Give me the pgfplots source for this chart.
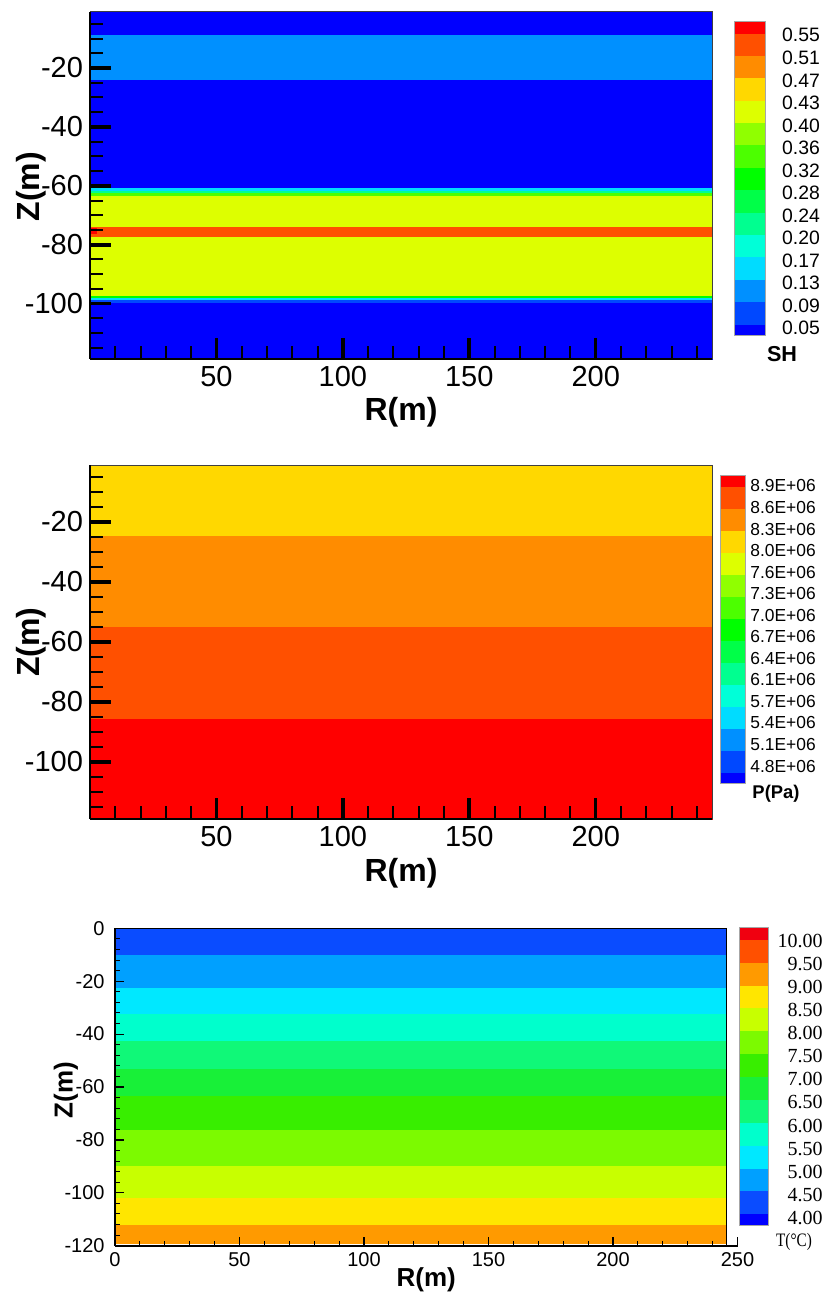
\documentclass[border=0pt]{standalone}
\usepackage{fontspec}
\setmainfont{Liberation Sans}
\newfontfamily\tnr{Liberation Serif}
\usepackage{pgfplots}
\pgfplotsset{compat=1.18}

% Tecplot-like palette (panels 1 and 2)
\definecolor{c00}{HTML}{0000FF}
\definecolor{c01}{HTML}{0048FF}
\definecolor{c02}{HTML}{0090FF}
\definecolor{c03}{HTML}{00DCFF}
\definecolor{c04}{HTML}{00FFD8}
\definecolor{c05}{HTML}{00FF90}
\definecolor{c06}{HTML}{00FF48}
\definecolor{c07}{HTML}{00FF00}
\definecolor{c08}{HTML}{4CFF00}
\definecolor{c09}{HTML}{90FF00}
\definecolor{c10}{HTML}{DDFF00}
\definecolor{c11}{HTML}{FFD800}
\definecolor{c12}{HTML}{FF8C00}
\definecolor{c13}{HTML}{FF5000}
\definecolor{c14}{HTML}{FF0000}
% panel 3 palette
\definecolor{d00}{HTML}{0000FF}
\definecolor{d01}{HTML}{0A4CFF}
\definecolor{d02}{HTML}{00A0FF}
\definecolor{d03}{HTML}{00E8FF}
\definecolor{d04}{HTML}{00FFCC}
\definecolor{d05}{HTML}{10F878}
\definecolor{d06}{HTML}{18F038}
\definecolor{d07}{HTML}{38EE00}
\definecolor{d08}{HTML}{7CFA00}
\definecolor{d09}{HTML}{C8FF00}
\definecolor{d10}{HTML}{FFE600}
\definecolor{d11}{HTML}{FF9A00}
\definecolor{d12}{HTML}{FF5000}
\definecolor{d13}{HTML}{F00010}

\tikzset{lay/.style={draw=#1, fill=#1, line width=0.3pt}}

\pgfplotsset{
  field/.style={
    scale only axis, axis on top, anchor=north west, clip=false,
    axis x line*=bottom, axis y line*=left,
    tick align=inside,
    major tick length=10.5pt, minor tick length=6.5pt,
    major tick style={line width=1.8pt, black},
    minor tick style={line width=1pt, black},
    axis line style={line width=1.2pt, black},
    ticklabel style={font=\fontsize{14.5}{16}\selectfont},
    label style={font=\bfseries\fontsize{16}{18}\selectfont},
    xmin=0, xmax=246,
    xtick={50,100,150,200}, xticklabels={50,100,150,200},
    minor xtick={10,20,...,240},
    ytick={-100,-80,-60,-40,-20}, yticklabels={-100,-80,-60,-40,-20},
    minor ytick={-115,-110,...,-5},
    xlabel={R(m)}, ylabel={Z(m)},
  },
  cbar/.style={
    scale only axis, axis on top, anchor=north west,
    xmin=0, xmax=1, xtick=\empty,
    yticklabel pos=right, major tick length=0pt,
    axis line style={line width=0.4pt, black!35},
    yticklabel style={anchor=west, inner sep=0pt},
  },
}

\begin{document}
\begin{tikzpicture}
\useasboundingbox (0,0) rectangle (412.5pt,-646.5pt);

%================ Panel 1: SH =================
\begin{axis}[field, at={(45pt,-6pt)}, width=311pt, height=173.5pt,
  ymin=-118.8, ymax=-1,
  xlabel style={at={(axis description cs:0.5,-0.153)}, anchor=center},
  ylabel style={at={(axis description cs:-0.095,0.496)}, anchor=center}]
\addplot[lay=c00] coordinates {(0,-1) (246,-1) (246,-118.8) (0,-118.8)};
\addplot[lay=c02] coordinates {(0,-9) (246,-9) (246,-24) (0,-24)};
\addplot[lay=c03] coordinates {(0,-61.0) (246,-61.0) (246,-61.8) (0,-61.8)};
\addplot[lay=c05] coordinates {(0,-61.8) (246,-61.8) (246,-62.5) (0,-62.5)};
\addplot[lay=c08] coordinates {(0,-62.5) (246,-62.5) (246,-63.5) (0,-63.5)};
\addplot[lay=c10] coordinates {(0,-63.5) (246,-63.5) (246,-97.6) (0,-97.6)};
\addplot[lay=c13] coordinates {(0,-74.2) (246,-74.2) (246,-77.1) (0,-77.1)};
\addplot[lay=c07] coordinates {(0,-97.6) (246,-97.6) (246,-98.3) (0,-98.3)};
\addplot[lay=c03] coordinates {(0,-98.3) (246,-98.3) (246,-99.0) (0,-99.0)};
\addplot[lay=c01] coordinates {(0,-99.0) (246,-99.0) (246,-99.6) (0,-99.6)};
\addplot[lay=c14] coordinates {(0,-74.5) (2.5,-74.5) (2.5,-76) (0,-76)};
\draw[line width=0.5pt, black!75] (rel axis cs:0,1) -- (rel axis cs:1,1) -- (rel axis cs:1,0);
\end{axis}

\begin{axis}[cbar, at={(367pt,-10.85pt)}, width=15.5pt, height=156.65pt,
  ymin=0, ymax=14,
  ytick={0.300,1.307,2.314,3.321,4.328,5.335,6.342,7.349,8.356,9.363,10.370,11.377,12.384,13.391},
  yticklabels={0.05,0.09,0.13,0.17,0.20,0.24,0.28,0.32,0.36,0.40,0.43,0.47,0.51,0.55},
  yticklabel style={font=\fontsize{9.7}{11}\selectfont, xshift=8.35pt}]
\addplot[lay=c00] coordinates {(0,0) (1,0) (1,0.5) (0,0.5)};
\addplot[lay=c01] coordinates {(0,0.5) (1,0.5) (1,1.5) (0,1.5)};
\addplot[lay=c02] coordinates {(0,1.5) (1,1.5) (1,2.5) (0,2.5)};
\addplot[lay=c03] coordinates {(0,2.5) (1,2.5) (1,3.5) (0,3.5)};
\addplot[lay=c04] coordinates {(0,3.5) (1,3.5) (1,4.5) (0,4.5)};
\addplot[lay=c05] coordinates {(0,4.5) (1,4.5) (1,5.5) (0,5.5)};
\addplot[lay=c06] coordinates {(0,5.5) (1,5.5) (1,6.5) (0,6.5)};
\addplot[lay=c07] coordinates {(0,6.5) (1,6.5) (1,7.5) (0,7.5)};
\addplot[lay=c08] coordinates {(0,7.5) (1,7.5) (1,8.5) (0,8.5)};
\addplot[lay=c09] coordinates {(0,8.5) (1,8.5) (1,9.5) (0,9.5)};
\addplot[lay=c10] coordinates {(0,9.5) (1,9.5) (1,10.5) (0,10.5)};
\addplot[lay=c11] coordinates {(0,10.5) (1,10.5) (1,11.5) (0,11.5)};
\addplot[lay=c12] coordinates {(0,11.5) (1,11.5) (1,12.5) (0,12.5)};
\addplot[lay=c13] coordinates {(0,12.5) (1,12.5) (1,13.5) (0,13.5)};
\addplot[lay=c14] coordinates {(0,13.5) (1,13.5) (1,14) (0,14)};
\end{axis}
\node[font=\bfseries\fontsize{10.8}{12}\selectfont] at (391pt,-177pt) {SH};

%================ Panel 2: P =================
\begin{axis}[field, at={(45pt,-232.5pt)}, width=311pt, height=177pt,
  ymin=-119, ymax=-1,
  xlabel style={at={(axis description cs:0.5,-0.1525)}, anchor=center},
  ylabel style={at={(axis description cs:-0.095,0.5)}, anchor=center}]
\addplot[lay=c14] coordinates {(0,-1) (246,-1) (246,-119) (0,-119)};
\addplot[lay=c11] coordinates {(0,-1) (246,-1) (246,-24.7) (0,-24.7)};
\addplot[lay=c12] coordinates {(0,-24.7) (246,-24.7) (246,-55.1) (0,-55.1)};
\addplot[lay=c13] coordinates {(0,-55.1) (246,-55.1) (246,-85.4) (0,-85.4)};
\draw[line width=0.5pt, black!75] (rel axis cs:0,1) -- (rel axis cs:1,1) -- (rel axis cs:1,0);
\end{axis}

\begin{axis}[cbar, at={(360pt,-237.5pt)}, width=12.85pt, height=154pt,
  ymin=0, ymax=14,
  ytick={0.770,1.749,2.728,3.708,4.687,5.666,6.645,7.624,8.604,9.583,10.562,11.541,12.520,13.500},
  yticklabels={4.8E+06,5.1E+06,5.4E+06,5.7E+06,6.1E+06,6.4E+06,6.7E+06,7.0E+06,7.3E+06,7.6E+06,8.0E+06,8.3E+06,8.6E+06,8.9E+06},
  yticklabel style={font=\fontsize{8.7}{10}\selectfont, xshift=2.15pt}]
\addplot[lay=c00] coordinates {(0,0) (1,0) (1,0.5) (0,0.5)};
\addplot[lay=c01] coordinates {(0,0.5) (1,0.5) (1,1.5) (0,1.5)};
\addplot[lay=c02] coordinates {(0,1.5) (1,1.5) (1,2.5) (0,2.5)};
\addplot[lay=c03] coordinates {(0,2.5) (1,2.5) (1,3.5) (0,3.5)};
\addplot[lay=c04] coordinates {(0,3.5) (1,3.5) (1,4.5) (0,4.5)};
\addplot[lay=c05] coordinates {(0,4.5) (1,4.5) (1,5.5) (0,5.5)};
\addplot[lay=c06] coordinates {(0,5.5) (1,5.5) (1,6.5) (0,6.5)};
\addplot[lay=c07] coordinates {(0,6.5) (1,6.5) (1,7.5) (0,7.5)};
\addplot[lay=c08] coordinates {(0,7.5) (1,7.5) (1,8.5) (0,8.5)};
\addplot[lay=c09] coordinates {(0,8.5) (1,8.5) (1,9.5) (0,9.5)};
\addplot[lay=c10] coordinates {(0,9.5) (1,9.5) (1,10.5) (0,10.5)};
\addplot[lay=c11] coordinates {(0,10.5) (1,10.5) (1,11.5) (0,11.5)};
\addplot[lay=c12] coordinates {(0,11.5) (1,11.5) (1,12.5) (0,12.5)};
\addplot[lay=c13] coordinates {(0,12.5) (1,12.5) (1,13.5) (0,13.5)};
\addplot[lay=c14] coordinates {(0,13.5) (1,13.5) (1,14) (0,14)};
\end{axis}
\node[font=\bfseries\fontsize{9.2}{11}\selectfont] at (388pt,-397pt) {P(Pa)};

%================ Panel 3: T =================
\begin{axis}[scale only axis, axis on top, anchor=north west, clip=false,
  at={(57.5pt,-464.15pt)}, width=311.25pt, height=158.7pt,
  xmin=0, xmax=250, ymin=-120, ymax=0,
  axis x line*=bottom, axis y line*=left,
  tick align=inside,
  major tick length=4.5pt, minor tick length=2.5pt,
  major tick style={line width=0.6pt, black},
  minor tick style={line width=0.5pt, black},
  axis line style={line width=1pt, black},
  ticklabel style={font=\fontsize{10}{12}\selectfont},
  yticklabel style={xshift=-1.7pt},
  xtick={0,50,100,150,200,250}, xticklabels={0,50,100,150,200,250},
  minor xtick={10,20,...,240},
  ytick={-120,-100,-80,-60,-40,-20,0}, yticklabels={-120,-100,-80,-60,-40,-20,0},
  minor ytick={-116,-112,...,-4},
  xlabel={R(m)}, ylabel={Z(m)},
  label style={font=\bfseries\fontsize{13}{15}\selectfont},
  xlabel style={at={(axis description cs:0.5,-0.108)}, anchor=center},
  ylabel style={at={(axis description cs:-0.0787,0.49)}, anchor=center}]
\addplot[lay=d01] coordinates {(0,0) (245.5,0) (245.5,-10.1) (0,-10.1)};
\addplot[lay=d02] coordinates {(0,-10.1) (245.5,-10.1) (245.5,-22.5) (0,-22.5)};
\addplot[lay=d03] coordinates {(0,-22.5) (245.5,-22.5) (245.5,-32.5) (0,-32.5)};
\addplot[lay=d04] coordinates {(0,-32.5) (245.5,-32.5) (245.5,-42.9) (0,-42.9)};
\addplot[lay=d05] coordinates {(0,-42.9) (245.5,-42.9) (245.5,-53.3) (0,-53.3)};
\addplot[lay=d06] coordinates {(0,-53.3) (245.5,-53.3) (245.5,-63.7) (0,-63.7)};
\addplot[lay=d07] coordinates {(0,-63.7) (245.5,-63.7) (245.5,-76.5) (0,-76.5)};
\addplot[lay=d08] coordinates {(0,-76.5) (245.5,-76.5) (245.5,-89.8) (0,-89.8)};
\addplot[lay=d09] coordinates {(0,-89.8) (245.5,-89.8) (245.5,-101.9) (0,-101.9)};
\addplot[lay=d10] coordinates {(0,-101.9) (245.5,-101.9) (245.5,-112.2) (0,-112.2)};
\addplot[lay=d11] coordinates {(0,-112.2) (245.5,-112.2) (245.5,-119) (0,-119)};
\addplot[black, line width=0.6pt] coordinates {(0,0) (245.5,0) (245.5,-120)};
\end{axis}

\begin{axis}[cbar, at={(369.65pt,-463.85pt)}, width=14.5pt, height=148.65pt,
  ymin=0, ymax=13,
  ytick={0.300,1.312,2.323,3.335,4.347,5.358,6.370,7.382,8.393,9.405,10.417,11.428,12.440},
  yticklabels={4.00,4.50,5.00,5.50,6.00,6.50,7.00,7.50,8.00,8.50,9.00,9.50,10.00},
  yticklabel style={font=\tnr\fontsize{10}{12}\selectfont, anchor=east, xshift=27.35pt}]
\addplot[lay=d00] coordinates {(0,0) (1,0) (1,0.5) (0,0.5)};
\addplot[lay=d01] coordinates {(0,0.5) (1,0.5) (1,1.5) (0,1.5)};
\addplot[lay=d02] coordinates {(0,1.5) (1,1.5) (1,2.5) (0,2.5)};
\addplot[lay=d03] coordinates {(0,2.5) (1,2.5) (1,3.5) (0,3.5)};
\addplot[lay=d04] coordinates {(0,3.5) (1,3.5) (1,4.5) (0,4.5)};
\addplot[lay=d05] coordinates {(0,4.5) (1,4.5) (1,5.5) (0,5.5)};
\addplot[lay=d06] coordinates {(0,5.5) (1,5.5) (1,6.5) (0,6.5)};
\addplot[lay=d07] coordinates {(0,6.5) (1,6.5) (1,7.5) (0,7.5)};
\addplot[lay=d08] coordinates {(0,7.5) (1,7.5) (1,8.5) (0,8.5)};
\addplot[lay=d09] coordinates {(0,8.5) (1,8.5) (1,9.5) (0,9.5)};
\addplot[lay=d10] coordinates {(0,9.5) (1,9.5) (1,10.5) (0,10.5)};
\addplot[lay=d11] coordinates {(0,10.5) (1,10.5) (1,11.5) (0,11.5)};
\addplot[lay=d12] coordinates {(0,11.5) (1,11.5) (1,12.5) (0,12.5)};
\addplot[lay=d13] coordinates {(0,12.5) (1,12.5) (1,13) (0,13)};
\end{axis}
\node[font=\tnr\fontsize{9.5}{11}\selectfont, xscale=0.8, inner sep=0pt] at (397pt,-621pt) {T(°C)};

\end{tikzpicture}
\end{document}
